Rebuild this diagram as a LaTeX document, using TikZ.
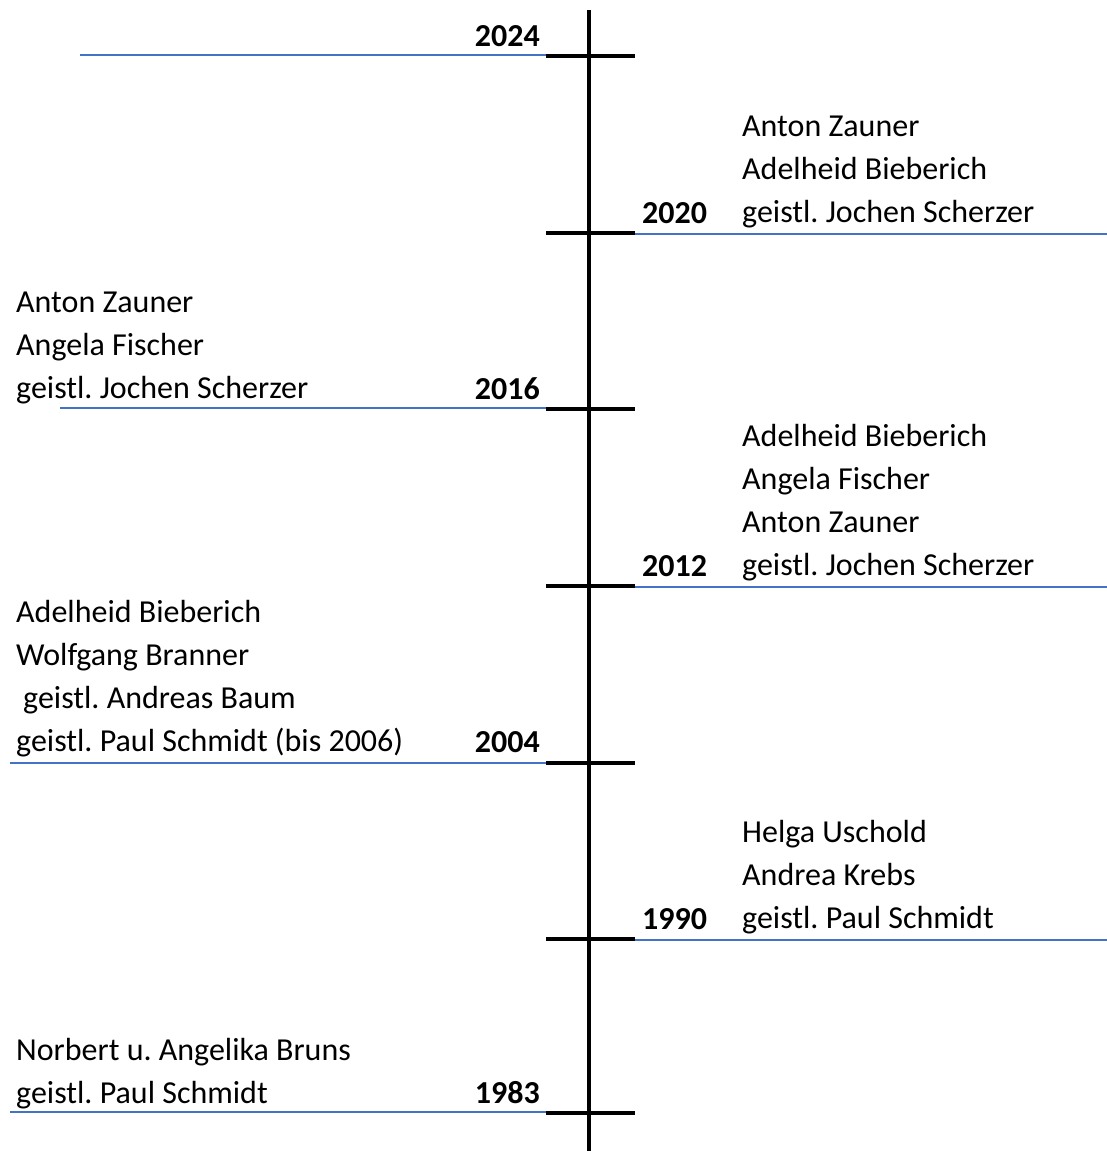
\documentclass[tikz,border=0pt]{standalone}
\usepackage{fontspec}
\setmainfont{Carlito}
\frenchspacing
\definecolor{lineblue}{HTML}{4472C4}
\begin{document}
\begin{tikzpicture}[x=1pt,y=-1pt,
  axis/.style={line width=4pt,black},
  tickline/.style={line width=4pt,black},
  blueline/.style={line width=1.8pt,lineblue},
  person/.style={font=\fontsize{32}{40}\selectfont,inner sep=0pt,anchor=base west},
  yearL/.style={font=\fontsize{32}{40}\selectfont\bfseries,inner sep=0pt,anchor=base east},
  yearR/.style={font=\fontsize{32}{40}\selectfont\bfseries,inner sep=0pt,anchor=base west}]
\useasboundingbox (0,0) rectangle (1107,1151);
% axis
\coordinate (top) at (589,10);
\coordinate (bot) at (589,1151);
% blue lines first (under black ticks)
\coordinate (b24a) at (80,55);  \coordinate (b24b) at (546,55);
\coordinate (b20a) at (635,234); \coordinate (b20b) at (1107,234);
\coordinate (b16a) at (60,408); \coordinate (b16b) at (548,408);
\coordinate (b12a) at (635,587); \coordinate (b12b) at (1107,587);
\coordinate (b04a) at (10,763); \coordinate (b04b) at (565,763);
\coordinate (b90a) at (635,940); \coordinate (b90b) at (1107,940);
\coordinate (b83a) at (10,1112); \coordinate (b83b) at (565,1112);
\foreach \n in {24,20,16,12,04,90,83}{\draw[blueline] (b\n a) -- (b\n b);}
\draw[axis] (top) -- (bot);
% ticks
\foreach \t/\y in {t24/56,t20/233,t16/409,t12/586,t04/763,t90/939,t83/1113}{
  \coordinate (\t l) at (546,\y); \coordinate (\t r) at (635,\y);
  \draw[tickline] (\t l) -- (\t r);}
% years
\node[yearL] (y2024) at (540,46) {2024};
\node[yearR] (y2020) at (642,223) {2020};
\node[yearL] (y2016) at (540,399) {2016};
\node[yearR] (y2012) at (642,576) {2012};
\node[yearL] (y2004) at (540,752) {2004};
\node[yearR] (y1990) at (642,929) {1990};
\node[yearL] (y1983) at (540,1103) {1983};
% 2020 block
\node[person] (a1) at (742,136) {Anton Zauner};
\node[person] (a2) at (742,179) {Adelheid Bieberich};
\node[person] (a3) at (742,222) {geistl. Jochen Scherzer};
% 2016 block
\node[person] (b1) at (16,312) {Anton Zauner};
\node[person] (b2) at (16,355) {Angela Fischer};
\node[person] (b3) at (16,398) {geistl. Jochen Scherzer};
% 2012 block
\node[person] (c1) at (742,446) {Adelheid Bieberich};
\node[person] (c2) at (742,489) {Angela Fischer};
\node[person] (c3) at (742,532) {Anton Zauner};
\node[person] (c4) at (742,575) {geistl. Jochen Scherzer};
% 2004 block
\node[person] (d1) at (16,622) {Adelheid Bieberich};
\node[person] (d2) at (16,665) {Wolfgang Branner};
\node[person] (d3) at (23,708) {geistl. Andreas Baum};
\node[person] (d4) at (16,751) {geistl. Paul Schmidt (bis 2006)};
% 1990 block
\node[person] (e1) at (742,842) {Helga Uschold};
\node[person] (e2) at (742,885) {Andrea Krebs};
\node[person] (e3) at (742,928) {geistl. Paul Schmidt};
% 1983 block
\node[person] (f1) at (16,1060) {Norbert u. Angelika Bruns};
\node[person] (f2) at (16,1103) {geistl. Paul Schmidt};
\end{tikzpicture}
\end{document}
